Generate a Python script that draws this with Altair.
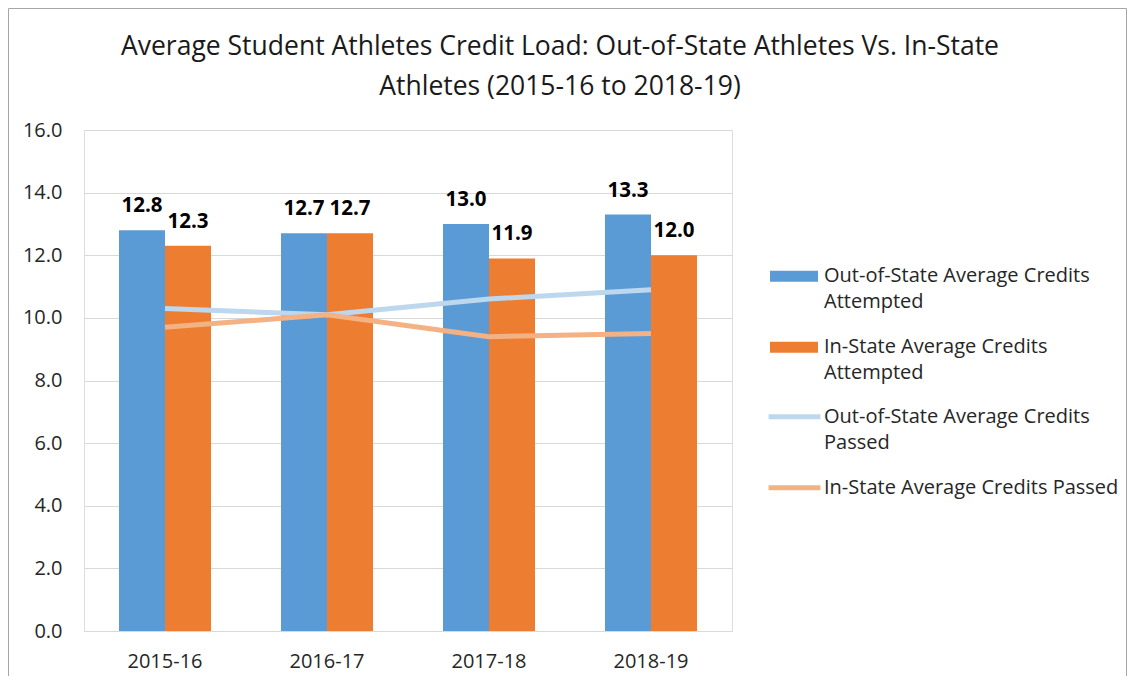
import altair as alt
import pandas as pd

years = ["2015-16", "2016-17", "2017-18", "2018-19"]
oos_attempted = [12.8, 12.7, 13.0, 13.3]
is_attempted = [12.3, 12.7, 11.9, 12.0]
oos_passed = [10.3, 10.1, 10.6, 10.9]
is_passed = [9.7, 10.1, 9.4, 9.5]

bar_series = ["Out-of-State Average Credits Attempted", "In-State Average Credits Attempted"]
line_series = ["Out-of-State Average Credits Passed", "In-State Average Credits Passed"]
bar_colors = ["#5B9BD5", "#ED7D31"]
line_colors = ["#BDD7EE", "#F4B183"]
title_lines = ["Average Student Athletes Credit Load: Out-of-State Athletes Vs. In-State",
               "Athletes (2015-16 to 2018-19)"]

FONT = "Open Sans"

bars_df = pd.DataFrame({
    "year": years * 2,
    "series": [bar_series[0]] * 4 + [bar_series[1]] * 4,
    "value": oos_attempted + is_attempted,
})
lines_df = pd.DataFrame({
    "year": years * 2,
    "series": [line_series[0]] * 4 + [line_series[1]] * 4,
    "value": oos_passed + is_passed,
})

wrap_expr = ("datum.label == 'In-State Average Credits Passed' ? datum.label : "
             "[substring(datum.label, 0, lastindexof(datum.label, ' ')), "
             "substring(datum.label, lastindexof(datum.label, ' ') + 1)]")

x_enc = alt.X("year:N", sort=years, title=None,
              scale=alt.Scale(paddingInner=0.432, paddingOuter=0.216),
              axis=alt.Axis(labelAngle=0, labelFontSize=20, labelColor="#262626",
                            labelFont=FONT, labelPadding=20, labelBaseline="top",
                            ticks=False, domain=True, domainColor="#D9D9D9", domainWidth=1))
y_enc = alt.Y("value:Q", title=None,
              scale=alt.Scale(domain=[0, 16], nice=False),
              axis=alt.Axis(values=[0, 2, 4, 6, 8, 10, 12, 14, 16], format=".1f",
                            labelFontSize=20, labelColor="#262626", labelFont=FONT,
                            labelPadding=22, ticks=False, domain=False,
                            grid=True, gridColor="#D9D9D9", gridWidth=1))
xoff_enc = alt.XOffset("series:N", sort=bar_series,
                       scale=alt.Scale(domain=bar_series, paddingInner=0, paddingOuter=0))

legend_common = dict(title=None, orient="none", symbolSize=2304, labelFont=FONT,
                     labelFontSize=20, labelColor="#262626", labelLimit=400,
                     labelBaseline="alphabetic", labelExpr=wrap_expr, padding=0)

bars = alt.Chart(bars_df).mark_bar().encode(
    x=x_enc, y=y_enc, xOffset=xoff_enc,
    fill=alt.Fill("series:N", sort=bar_series,
                  scale=alt.Scale(domain=bar_series, range=bar_colors),
                  legend=alt.Legend(legendX=686, legendY=128, rowPadding=17, labelOffset=6,
                                    symbolType="M-1,-0.47H1V-0.01H-1Z",
                                    symbolStrokeWidth=0, **legend_common)),
)

labels = alt.Chart(bars_df).mark_text(
    baseline="alphabetic", dy=-18, fontSize=20.5, fontWeight="bold", font=FONT, color="#000000"
).encode(
    x=x_enc, y=y_enc, xOffset=xoff_enc,
    text=alt.Text("value:Q", format=".1f"),
)

lines = alt.Chart(lines_df).mark_line(strokeWidth=5).encode(
    x=x_enc, y=y_enc,
    stroke=alt.Stroke("series:N", sort=line_series,
                      scale=alt.Scale(domain=line_series, range=line_colors),
                      legend=alt.Legend(legendX=684, legendY=266, rowPadding=14, labelOffset=3,
                                        symbolType="M-1.08,-0.24H1.08",
                                        symbolStrokeWidth=5, **legend_common)),
)

frame = alt.Chart(pd.DataFrame({"a": [0]})).mark_rect(
    fill="transparent", stroke="#A6A6A6", strokeWidth=1
).encode(x=alt.value(-75.5), x2=alt.value(1042.5), y=alt.value(-121.5), y2=alt.value(700))

chart = alt.layer(frame, bars, lines, labels).resolve_scale(
    fill="independent", stroke="independent"
).properties(
    width=648, height=501,
    title=alt.TitleParams(title_lines, fontSize=26.5, font=FONT, fontWeight="normal",
                          color="#1a1a1a", anchor="middle", frame="group", dx=152,
                          dy=92, lineHeight=40, offset=0),
    autosize=alt.AutoSizeParams(type="none"),
    padding={"left": 76, "top": 122, "right": 395, "bottom": 45},
).configure_view(stroke=None).configure(
    background="white", style={"guide-label": {"lineHeight": 26}}
)

chart.save("out.html", embed_options={"renderer": "svg", "actions": False})
